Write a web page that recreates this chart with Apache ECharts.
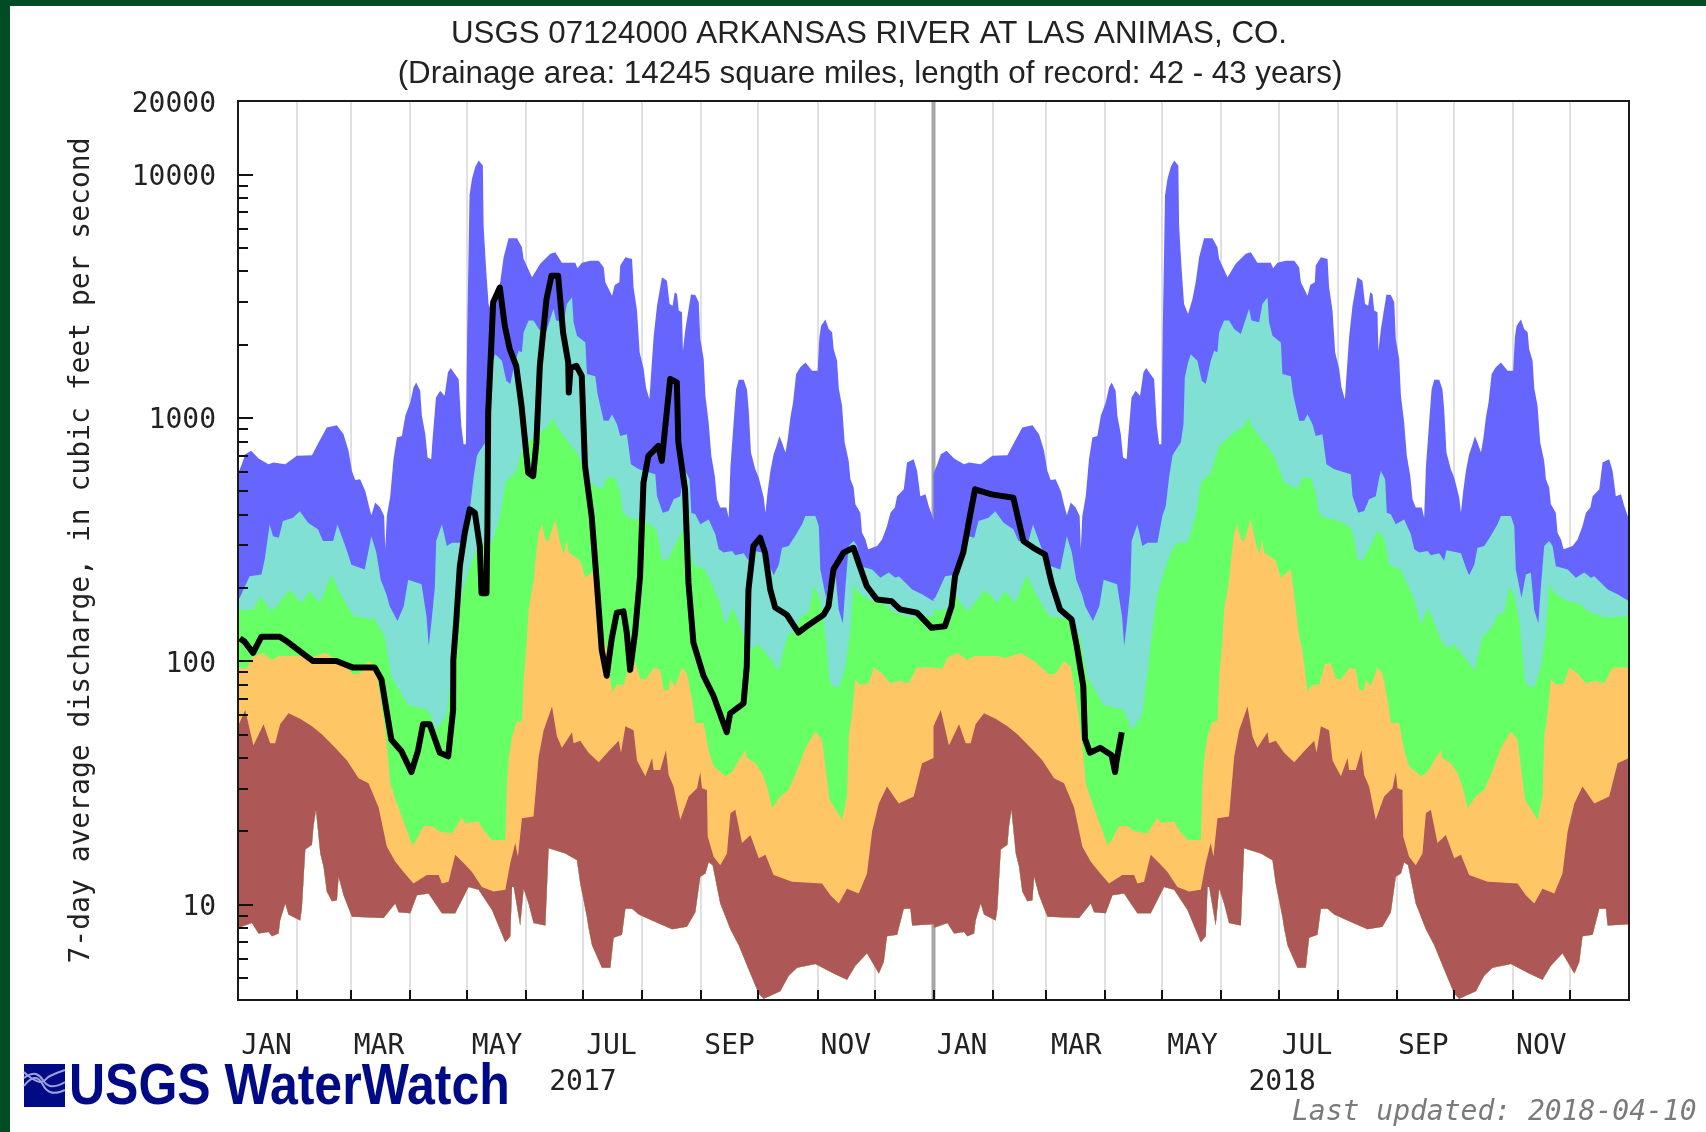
<!DOCTYPE html>
<html><head><meta charset="utf-8">
<style>html,body{margin:0;padding:0;background:#fff}#c{width:1706px;height:1132px}</style>
<script src="https://cdn.jsdelivr.net/npm/echarts@6/dist/echarts.min.js"></script>
</head><body><div id="c"></div>
<script>
// Each pair is [day of the year, discharge in cubic feet per second].
const maxFlow=[[0,590],[2,644],[3.8,708],[6.9,731],[10.8,679],[16,644],[18.6,655],[24.8,644],[30.9,697],[38.8,701],[42.3,791],[46.6,912],[51.9,931],[55.4,855],[58,731],[59.8,604],[61.5,555],[64.1,558],[66.8,500],[68.9,427],[70,397],[72,448],[74.6,427],[76.7,394],[77.3,288],[78.1,394],[79.9,476],[81.6,675],[83.4,828],[86,841],[87.8,1019],[90.4,1155],[92.1,1330],[93.5,1396],[95.6,1290],[96.5,1019],[98.3,855],[99.5,686],[101.4,675],[102.1,816],[103.9,1211],[106.1,1290],[108.4,1230],[110.2,1535],[111.6,1600],[115.8,1439],[117.2,925],[118.4,778],[119.6,778],[120.3,2275],[121.5,8185],[122.8,9594],[124.5,10715],[126.3,11400],[128.5,10860],[128.9,6150],[130.1,4217],[131.5,2931],[133.6,2667],[135.9,3076],[137.6,3597],[139.4,4560],[142,5458],[146.4,5458],[149,5012],[149.9,4487],[154.3,3776],[158.6,4285],[163.9,4710],[166.5,4786],[170,4325],[177,4325],[178.2,4110],[180.5,4325],[184.9,4416],[189.3,4416],[191.9,4150],[192.8,3597],[196.3,3170],[197.7,3508],[200.1,3597],[200.6,4217],[203.3,4560],[206.8,4487],[207.6,3436],[209.4,2754],[210.8,1854],[212.9,1585],[214.1,1330],[215.9,1191],[216.9,1560],[218.1,2138],[219.9,2884],[222.5,3776],[225.1,3656],[226.5,2931],[228.1,2884],[229.2,3273],[230.4,3221],[231.3,2754],[233,2710],[233.5,1884],[234.8,2312],[236.2,2710],[237.7,3206],[240,3192],[241.8,2979],[242.6,2104],[244.4,1742],[245.3,1230],[247,955],[248.4,697],[250.2,577],[251.4,462],[253.1,427],[256.3,427],[257.5,388],[258.4,624],[260.1,955],[261.4,1309],[262.8,1432],[265.4,1432],[267.1,1309],[268,1084],[269.2,719],[271.5,614],[273.3,567],[275.9,470],[276.8,407],[278,500],[279.4,604],[281.1,708],[282.9,778],[284.1,838],[285.5,791],[287.3,719],[288.5,816],[289.9,1002],[291.3,1155],[292.9,1510],[295.1,1611],[297.8,1687],[301.3,1560],[304.2,1560],[305.1,2138],[306,2388],[308.3,2529],[310,2312],[311.8,2244],[312.6,1914],[314.4,1714],[315.3,1318],[317,1119],[318.4,791],[320.5,664],[321.4,558],[323.1,516],[324,441],[326.6,407],[327.5,337],[329.3,316],[330.7,288],[335.4,297],[338,316],[340.6,359],[342.4,407],[344.7,427],[345.9,476],[349.4,508],[351.1,655],[354.6,675],[356.4,604],[358.1,476],[360.8,484],[362.5,434],[365,382]];
const p90Flow=[[0,180],[0.9,182],[6.1,223],[12.3,227],[14,261],[16.6,364],[18.4,326],[21.4,321],[23.6,376],[28.9,388],[32.4,413],[36.8,370],[42,347],[44.6,311],[49.9,311],[52.2,364],[56.9,288],[59.5,249],[66.5,238],[70,326],[72.6,279],[74.9,216],[77.9,188],[79.6,168],[83.7,146],[87,168],[89.3,216],[96.3,207],[98.9,153],[100.1,115],[101.5,144],[103.3,200],[104,311],[107,365],[109.6,297],[112.3,306],[117.5,306],[120.1,394],[121.9,434],[123.6,567],[125.4,697],[126.3,719],[129.8,791],[131.2,940],[131.9,1462],[133.6,1687],[135,1824],[138.5,1714],[140.8,1419],[142.9,1374],[145.5,1714],[147.3,1884],[149,1855],[149.9,2244],[152.5,2506],[155.1,2506],[157.8,2312],[161.3,2208],[163,2427],[165.6,2799],[166.9,2506],[170.9,2466],[172.6,2931],[175.3,3126],[176.1,2466],[177.9,2173],[182.3,2037],[183.1,1510],[187.5,1480],[188.7,1250],[190.1,1119],[191.9,971],[194.5,971],[196.3,1033],[198.9,940],[200.6,841],[204.1,855],[206.2,644],[210.3,614],[216.4,594],[219,586],[219.9,476],[222.9,407],[226,414],[228.6,462],[232.1,476],[233.9,567],[234.8,604],[237,558],[237.9,407],[240,401],[242.6,365],[247,382],[250.5,332],[252.3,288],[254.9,279],[259.3,283],[261,272],[265.4,277],[268,258],[269.2,285],[276.8,277],[279.4,242],[281.1,225],[283.8,249],[285.5,292],[289,297],[292.5,327],[296,365],[297.8,394],[303,394],[304.8,359],[305.6,238],[308.6,182],[310.9,227],[313.5,231],[315.2,163],[317.4,143],[318.8,203],[320.5,297],[323.1,311],[324.9,297],[326.6,245],[332.8,238],[337.1,220],[341.5,231],[345,220],[346.8,223],[353.8,197],[359,188],[365,176]];
const p75Flow=[[0,162],[8,163],[11.9,185],[17.5,160],[21,171],[27.1,197],[33.3,173],[37.6,194],[42.9,173],[49,227],[52.5,197],[60.4,153],[71.8,148],[77,126],[80.5,86.5],[89.3,66],[99.8,63],[104.1,52],[109.4,60],[112,86],[115.5,148],[117.6,190],[122.8,258],[126.3,297],[129,306],[133.3,306],[137.6,394],[140.3,541],[145.5,594],[149.9,766],[157.8,868],[163,925],[165.6,1002],[167,925],[170.9,841],[178.8,697],[184,541],[191,508],[193.6,567],[198,567],[200.6,492],[202,407],[205,388],[210.3,382],[216.4,365],[219.9,342],[222.5,262],[225.1,258],[227.8,283],[233,342],[236.5,321],[239.1,249],[245,238],[252.3,179],[255.8,141],[259.6,166],[266.3,122],[269.8,113],[273.3,117],[280.3,100],[283.8,91],[285.5,105],[288.1,126],[293.4,139],[296,155],[299.5,158],[302.1,203],[304.8,185],[307.4,148],[310.4,84],[311.8,79],[315.3,78],[318.8,95],[321.4,135],[323.1,207],[325.8,191],[332.8,176],[339.8,171],[343.3,160],[352.9,151],[365,153]];
const p25Flow=[[0,94],[4.6,93],[7.3,103],[12.5,108],[17.8,101],[21.3,105],[33.5,105],[37.9,103],[45.8,108],[52.8,100],[60.6,88],[64.1,89],[68.5,100],[72,95],[74.6,72],[77.3,52],[79.9,31.5],[83.4,26],[87.8,21],[91.3,17.6],[93,18.1],[97.4,21],[101.8,21],[105.3,20],[112.3,19.6],[117.5,22.7],[119.3,21.6],[126.3,21.9],[128.9,20.2],[133.3,18.4],[140.3,18.4],[141.1,30.5],[142,39.3],[143.8,49],[146.4,56.5],[149,56.5],[149.9,84],[151.6,122],[152.5,163],[155.1,213],[156,254],[157.8,336],[159.5,365],[161.3,316],[163,311],[166.5,382],[169.1,306],[170.9,274],[172.6,316],[173.5,279],[179.6,258],[182.3,220],[187.5,238],[189.3,185],[191.9,126],[193.6,111],[196.3,75],[198.9,80],[202.4,80],[205.4,97],[208.5,98],[211.1,85],[213.8,84],[218.5,94],[221.6,92],[223.4,76],[226,76],[226.9,84],[229.5,79],[233,94],[235.6,89],[238.3,69.5],[240,55.6],[244.4,55.6],[247,43],[249.6,37],[255.8,33.6],[259.3,35],[262.8,39],[266.3,43],[267.1,40],[271.5,38],[275,34.7],[277.6,30.5],[280.3,24.9],[284.6,27.8],[289,29.6],[294.3,37],[297.8,44],[303,51.4],[306.5,47.5],[310.4,27],[317,22.3],[319.6,27.8],[320.5,49],[322.3,61],[324,84],[326.6,80],[331,81],[333.6,94],[338,89],[342.4,81],[346.8,83],[352,81],[356.4,94],[365,94]];
const p10Flow=[[0,54],[3.8,63],[8.1,45],[13.4,55],[16.9,46],[19.5,46],[22.1,55],[26.5,61],[32.6,58],[38.8,54],[44,50],[51,44],[57.2,39],[63.3,33],[68.5,31.5],[73.8,25],[78.1,17.3],[82.5,15],[86.9,13.6],[92.1,12.2],[99.1,13.2],[105.3,13.2],[107,12.2],[110.5,12.4],[114,16],[118.4,14.8],[122.8,13.6],[128,11.8],[134.1,11.3],[140.3,11.5],[142.9,14.8],[145.5,17.9],[146.9,15.7],[149,22.6],[155.1,23],[157.8,40.5],[160.4,52],[164.8,65],[167.4,49],[170,44],[175.3,51],[176.1,46],[179.6,47],[184,42],[189.3,38.4],[194.5,42.6],[199.8,47],[201,42],[203.3,54],[207.6,52],[209.4,39],[213.8,33.6],[217.3,40],[218.1,35.7],[221.6,35.7],[224.6,43],[226,34],[228.6,30.5],[232.1,22.3],[236.5,27.8],[240.9,30],[242.6,35],[243.5,30],[246.1,29.5],[246.5,19],[249.6,15.7],[253.1,14.5],[256.6,16.2],[258.4,23.7],[261,24.5],[264.5,17.9],[268.9,19.3],[273.3,15.5],[276.8,16],[281.1,13.2],[290.8,12.4],[306.5,12.2],[310.9,10.9],[315.3,10.1],[319.6,11.6],[325.8,11.1],[330.1,13.4],[332.8,20],[336.3,26],[340.6,30.5],[346.8,26],[354.6,27.8],[359,38],[365,40]];
const minFlow=[[0,8],[7.3,8.4],[10.8,7.6],[16,7.7],[17.8,7.4],[21.3,7.6],[22.1,8.6],[24.8,10.1],[26.5,9.1],[32.6,8.6],[33.5,9.6],[35.3,16.8],[38.8,17.6],[39.6,20.9],[40.9,24.5],[42.3,19],[43.2,16.2],[44.9,14.3],[46.6,11.3],[49.3,10.3],[51.9,10.4],[52.8,13],[55.4,10.9],[59.8,8.9],[76.4,8.8],[82.5,10.1],[84.3,9.3],[90.4,9.2],[93.9,10.9],[100,11.1],[107,9.2],[114,9.2],[121,11.8],[126.3,11.5],[133.3,9.5],[140.3,7],[142.9,7.4],[143.8,11.8],[144.7,11.8],[148.1,8.2],[149.9,11.6],[152.5,10.1],[155.1,8.4],[161.3,8.2],[163,17],[171.8,16.2],[177.9,15.2],[179.6,12.2],[183.1,8.9],[184,8],[185.8,6.8],[191,5.5],[195.4,5.5],[197.1,7.3],[201.5,7.5],[203.3,9.6],[206.8,9.6],[210.3,9.1],[217.3,8.6],[227.8,7.9],[235.6,8.1],[240,9.3],[242.6,13],[245.3,13.4],[247,14.9],[249.1,14.5],[253.1,10.1],[258.4,7.9],[262.8,6.8],[268,5.4],[273.3,4.3],[275.9,4.1],[284.6,4.4],[289,5.1],[293.4,5.5],[303,5.7],[312.6,5.2],[319.6,4.9],[324,5.6],[330.1,6.3],[336.3,5.2],[338.9,5.8],[340.6,7.4],[345.9,7.5],[349.4,9.6],[352.9,9.6],[353.8,8.2],[365,8.3]];
// 7-day average discharge, [days since 1 Jan 2017, cubic feet per second].
const currentFlow=[[1,124],[3.5,120],[7.9,108],[12.3,126],[21.9,126],[26,120],[35,106],[39.4,100],[51.6,100],[60.4,94],[71.8,94],[75.3,84],[77.9,63],[80.5,47.5],[85.8,42.6],[91,35],[94.5,43],[97.1,55],[100.6,55],[105.9,42],[110.3,40.6],[112.9,63],[113,101],[114.6,148],[116.4,245],[119,336],[121.6,420],[124.3,407],[126.9,296],[127.8,190],[130.4,190],[130.9,359],[131.3,1050],[133,2037],[133.9,2980],[137.4,3425],[140,2388],[142.6,1914],[146,1633],[148.8,1117],[152.3,594],[154.9,575],[156.6,791],[158.4,1633],[161.9,3070],[164.5,3828],[168,3828],[170.6,2239],[173.3,1687],[173.6,1268],[174.5,1600],[177.6,1633],[180.4,1485],[182.1,634],[185.6,394],[188.3,210],[190.9,111],[193.5,87],[196.1,123],[198.8,158],[202.3,160],[204,131],[205.8,92],[208.4,131],[211,223],[212.8,541],[215.4,697],[220.6,766],[222.4,664],[225,1050],[226.8,1442],[230.3,1396],[231.1,791],[234.6,508],[236.4,210],[239,119],[244.3,87],[249.5,72],[256.5,51],[258.3,61],[265.3,67],[267,95],[267.9,197],[270.5,297],[274,321],[276.6,279],[279.3,197],[281.9,166],[288,155],[294.1,131],[298.5,139],[307.3,155],[309.9,168],[312.5,238],[317.8,279],[323,292],[325.6,254],[330,203],[335.3,179],[343.1,176],[347.5,163],[356.3,158],[364,137],[371,139],[374.5,168],[376.3,223],[380.6,279],[384.1,394],[386.8,508],[389.4,500],[395.5,484],[406.9,469],[409.5,382],[412.2,311],[417.4,292],[423.5,274],[427,209],[431.4,163],[437.5,148],[440.2,115],[443.6,79],[444.5,48],[447.1,42],[452.4,44],[458.5,41],[460.3,35],[461.1,39],[463.8,51]];

const monthStartDays=[31,59,90,120,151,181,212,243,273,304,334,396,424,455,485,516,546,577,608,638,669,699];
const monthLabelDays=[15,74,136,196,258,319,380,440,501,561,622,684];
const monthLabels=['JAN','MAR','MAY','JUL','SEP','NOV','JAN','MAR','MAY','JUL','SEP','NOV'];
const yearBoundaryDays=[365];
const yearLabelDays=[181,548];
const yearLabels=['2017','2018'];
const majorFlowTicks=[10,100,1000,10000];
const flowLabels=[10,100,1000,10000,20000];
const minorFlowTicks=[5,6,7,8,9,20,30,40,50,60,70,80,90,200,300,400,500,600,700,800,900,2000,3000,4000,5000,6000,7000,8000,9000];
const titleLine='USGS 07124000 ARKANSAS RIVER AT LAS ANIMAS, CO.';
const subtitleLine='(Drainage area: 14245 square miles, length of record: 42 - 43 years)';
const yTitle='7-day average discharge, in cubic feet per second';

const twoYears=s=>s.concat(s.map(p=>[p[0]+365,p[1]]));
const lowerEdge=twoYears(minFlow);
const mono='"DejaVu Sans Mono"';
const ink='#222';

function band(name,values,color){
  const upper=twoYears(values);
  return {name,type:'custom',data:upper,encode:{x:0,y:1},xAxisIndex:0,yAxisIndex:0,z:3,silent:true,
    itemStyle:{color},
    renderItem(params,api){
      if(params.dataIndex!==0) return null;
      const points=upper.map(p=>api.coord(p)).concat(lowerEdge.slice().reverse().map(p=>api.coord(p)));
      return {type:'polygon',shape:{points},style:{fill:api.visual('color')}};
    }};
}

const chart=echarts.init(document.getElementById('c'),null,{renderer:'canvas'});
chart.setOption({
  animation:false,backgroundColor:'#fff',
  title:[
    {text:titleLine,left:864,top:14,textAlign:'center',textStyle:{fontFamily:'Liberation Sans',fontSize:31.3,fontWeight:'normal',color:ink}},
    {text:subtitleLine,left:865,top:54,textAlign:'center',textStyle:{fontFamily:'Liberation Sans',fontSize:31.3,fontWeight:'normal',color:ink}}
  ],
  grid:{left:238,right:77,top:101,bottom:132,show:false},
  xAxis:[
    {type:'value',min:0,max:730,z:0,axisLine:{show:false},axisLabel:{show:false},
     axisTick:{show:false,customValues:monthStartDays},
     splitLine:{show:true,lineStyle:{color:'#e0e0e0',width:2}}},
    {type:'value',min:0,max:730,z:10,position:'bottom',axisLine:{show:false},splitLine:{show:false},
     axisTick:{show:true,inside:true,length:10,customValues:monthStartDays.concat(yearBoundaryDays),lineStyle:{color:'#111',width:2}},
     axisLabel:{show:true,margin:33,fontFamily:mono,fontSize:28,color:ink,
       customValues:monthLabelDays,formatter:v=>monthLabels[monthLabelDays.indexOf(v)]}},
    {type:'value',min:0,max:730,z:10,position:'bottom',axisLine:{show:false},splitLine:{show:false},axisTick:{show:false},
     axisLabel:{show:true,margin:69,fontFamily:mono,fontSize:28,color:ink,
       customValues:yearLabelDays,formatter:v=>yearLabels[yearLabelDays.indexOf(v)]}}
  ],
  yAxis:[
    {type:'log',logBase:10,min:4.05,max:20000,z:10,position:'left',
     name:yTitle,nameLocation:'middle',nameGap:142,nameRotate:90,
     nameTextStyle:{fontFamily:mono,fontSize:28,color:ink},
     axisLine:{show:false},splitLine:{show:false},
     axisTick:{show:true,inside:true,length:15,customValues:majorFlowTicks,lineStyle:{color:'#111',width:2}},
     axisLabel:{show:true,margin:22,customValues:flowLabels,formatter:v=>'{a|'+Math.round(v)+'}',
       rich:{a:{fontFamily:mono,fontSize:28,color:ink,padding:[7,0,0,0]}}}},
    {type:'log',logBase:10,min:4.05,max:20000,z:10,position:'left',
     axisLine:{show:false},splitLine:{show:false},axisLabel:{show:false},
     axisTick:{show:true,inside:true,length:10,customValues:minorFlowTicks,lineStyle:{color:'#111',width:2}}}
  ],
  series:[
    {name:'year boundary',type:'custom',data:yearBoundaryDays.map(d=>[d,20000]),encode:{x:0,y:1},z:2,silent:true,
     renderItem(params,api){
       const d=api.value(0),a=api.coord([d,20000]),b=api.coord([d,4.05]);
       return {type:'line',shape:{x1:a[0],y1:a[1],x2:b[0],y2:b[1]},style:{stroke:'#a6a6a6',lineWidth:4}};
     }},
    band('Maximum',maxFlow,'#6666ff'),
    band('90th percentile',p90Flow,'#80e0d4'),
    band('75th percentile',p75Flow,'#66ff66'),
    band('25th percentile',p25Flow,'#ffc666'),
    band('10th percentile',p10Flow,'#ad5757'),
    {name:'7-day average discharge',type:'line',data:currentFlow,showSymbol:false,z:5,silent:true,
     lineStyle:{color:'#000',width:6,join:'round'}}
  ],
  graphic:[
    {type:'rect',z:100,silent:true,shape:{x:238,y:101,width:1391,height:899},style:{fill:'none',stroke:'#1a1a1a',lineWidth:2}},
    {type:'rect',z:100,silent:true,shape:{x:0,y:0,width:1706,height:6},style:{fill:'#004d25'}},
    {type:'rect',z:100,silent:true,shape:{x:0,y:0,width:10,height:1132},style:{fill:'#004d25'}},
    {type:'rect',z:50,silent:true,shape:{x:24,y:1064,width:41,height:43},style:{fill:'#000a85'}},
    {type:'polyline',z:51,silent:true,shape:{points:[[24,1078],[36,1074],[50,1086],[65,1082]],smooth:.5},style:{stroke:'#9aa0d8',fill:'none',lineWidth:2}},
    {type:'polyline',z:51,silent:true,shape:{points:[[24,1086],[36,1078],[50,1092],[65,1090]],smooth:.5},style:{stroke:'#9aa0d8',fill:'none',lineWidth:2}},
    {type:'polyline',z:51,silent:true,shape:{points:[[24,1072],[40,1082],[50,1076],[65,1070]],smooth:.5},style:{stroke:'#9aa0d8',fill:'none',lineWidth:2}},
    {type:'text',z:50,silent:true,x:69,y:1088,scaleX:.862,style:{text:'USGS WaterWatch',fontFamily:'Liberation Sans',fontWeight:'bold',fontSize:58,fill:'#000a85',verticalAlign:'middle'}},
    {type:'text',z:50,silent:true,x:1292,y:1113,style:{text:'Last updated: 2018-04-10',fontFamily:mono,fontStyle:'italic',fontSize:28,fill:'#7a7a7a',verticalAlign:'middle'}}
  ]
});
</script></body></html>
